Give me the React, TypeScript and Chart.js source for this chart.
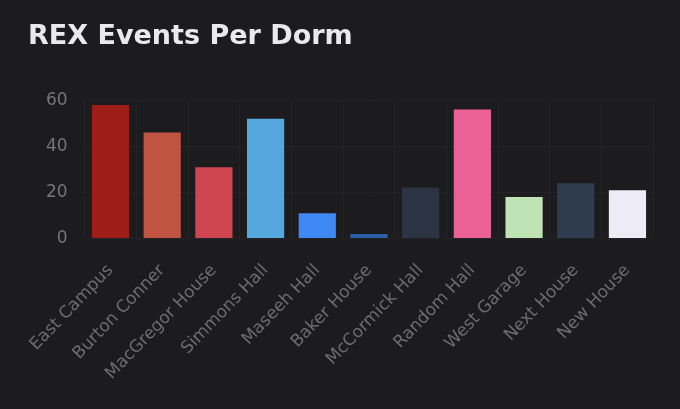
import React, { useEffect, useRef } from "react";
import { Chart, registerables } from "chart.js";

Chart.register(...registerables);

const categories = [
  "East Campus",
  "Burton Conner",
  "MacGregor House",
  "Simmons Hall",
  "Maseeh Hall",
  "Baker House",
  "McCormick Hall",
  "Random Hall",
  "West Garage",
  "Next House",
  "New House",
];
const eventCounts = [58, 46, 31, 52, 11, 2, 22, 56, 18, 24, 21];
const barColors = [
  "#9e1d17",
  "#c05341",
  "#cf4550",
  "#55a8de",
  "#3e88f4",
  "#2b5ea5",
  "#2c3343",
  "#eb6097",
  "#bee3b5",
  "#2f3c4f",
  "#ecebf6",
];
const yMin = 0;
const yMax = 60;
const yStep = 20;

export default function App() {
  const ref = useRef<HTMLCanvasElement>(null);

  useEffect(() => {
    if (!ref.current) return;
    const tickFont = { family: "DejaVu Sans", size: 17 };
    const gridColor = "rgba(255,255,255,0.03)";
    const chart = new Chart(ref.current, {
      type: "bar",
      data: {
        labels: categories,
        datasets: [
          {
            data: eventCounts,
            backgroundColor: barColors,
            borderWidth: 0,
          },
        ],
      },
      options: {
        animation: false,
        responsive: false,
        layout: { padding: { left: 28, right: 26.7, top: 0, bottom: 0 } },
        plugins: {
          legend: { display: false },
          tooltip: { enabled: false },
          title: {
            display: true,
            text: "REX Events Per Dorm",
            align: "start",
            color: "#e9e9ee",
            font: { family: "DejaVu Sans", size: 27, weight: "bold" },
            padding: { top: 21, bottom: 47 },
          },
        },
        scales: {
          x: {
            grid: { color: gridColor, drawTicks: false, offset: true },
            border: { display: false },
            ticks: {
              color: "#6c6c71",
              font: tickFont,
              minRotation: 46,
              maxRotation: 46,
              autoSkip: false,
              padding: 22,
            },
            afterFit: (s: any) => {
              s.height = 170.5;
            },
          },
          y: {
            min: yMin,
            max: yMax,
            grid: { color: gridColor, drawTicks: false },
            border: { display: false },
            ticks: {
              stepSize: yStep,
              color: "#75757a",
              font: tickFont,
              padding: 17,
            },
            afterFit: (s: any) => {
              s.width = 56.65;
            },
          },
        },
      },
    });
    return () => chart.destroy();
  }, []);

  return (
    <div
      style={{
        position: "fixed",
        left: 0,
        top: 0,
        width: 680,
        height: 409,
        background: "#1c1c1e",
      }}
    >
      <canvas ref={ref} width={680} height={409} style={{ display: "block" }} />
    </div>
  );
}
